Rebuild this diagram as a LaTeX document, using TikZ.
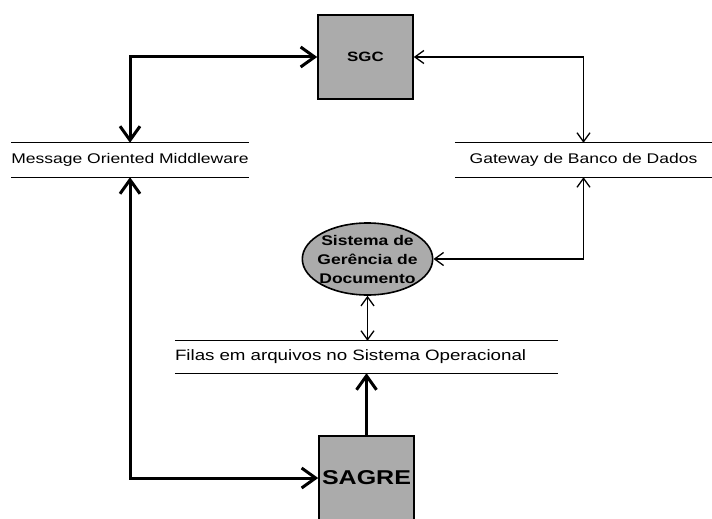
\documentclass[tikz,border=0pt]{standalone}
\usepackage{fontspec}
\setmainfont[FakeStretch=1.25]{Liberation Sans}
\usetikzlibrary{shapes,arrows.meta,positioning,calc}

\begin{document}
\begin{tikzpicture}[x=1pt, y=-1pt,
    layer/.style={minimum height=34pt, inner xsep=0pt, font=\fontsize{14}{16}\selectfont},
    sysbox/.style={rectangle, draw, line width=1.6pt, fill=black!33, minimum width=95pt, inner sep=0pt},
    bigflow/.style={line width=3pt, >={Straight Barb[length=14pt,width=20pt]}},
    smallflow/.style={line width=1.3pt, >={Straight Barb[length=9pt,width=13pt]}}]
    \useasboundingbox (0,0) rectangle (712,519);

    \node[sysbox, minimum height=84pt, font=\fontsize{13.5}{15}\selectfont\bfseries] (sgc) at (365.5,57) {SGC};
    \node[sysbox, minimum height=84pt, font=\fontsize{20}{22}\selectfont\bfseries] (sagre) at (366.5,478) {SAGRE};
    \node[layer, minimum width=236pt] (mom) at (130,160) {Message Oriented Middleware};
    \node[layer, minimum width=257pt] (gw) at (583.5,160) {Gateway de Banco de Dados};
    \node[layer, minimum height=32pt, text width=383pt, align=left, font=\fontsize{15}{17}\selectfont] (filas) at (366.5,357) {Filas em arquivos no Sistema Operacional};
    \node[ellipse, draw, line width=1.6pt, fill=black!33, minimum width=129pt, minimum height=72pt, inner xsep=-4pt, inner ysep=-2pt, align=center, font=\fontsize{14}{19}\selectfont\bfseries] (doc) at (367.5,259) {Sistema de\\Gerência de\\Documento};

    % linhas dos depositos
    \foreach \n in {mom,gw,filas}{
        \draw[line width=1.3pt] (\n.north west) -- (\n.north east) (\n.south west) -- (\n.south east);
    }

    \draw[bigflow, <->] (mom.north) |- (sgc.west);
    \draw[bigflow, <->] (mom.south) |- (sagre.west);
    \draw[bigflow, ->] (sagre.north) -- (filas.south);
    \draw[smallflow, <->] (sgc.east) -| (gw.north);
    \draw[smallflow, <->] (gw.south) |- (doc.east);
    \draw[smallflow, <->] (doc.south) -- (doc.south |- filas.north);
\end{tikzpicture}
\end{document}
